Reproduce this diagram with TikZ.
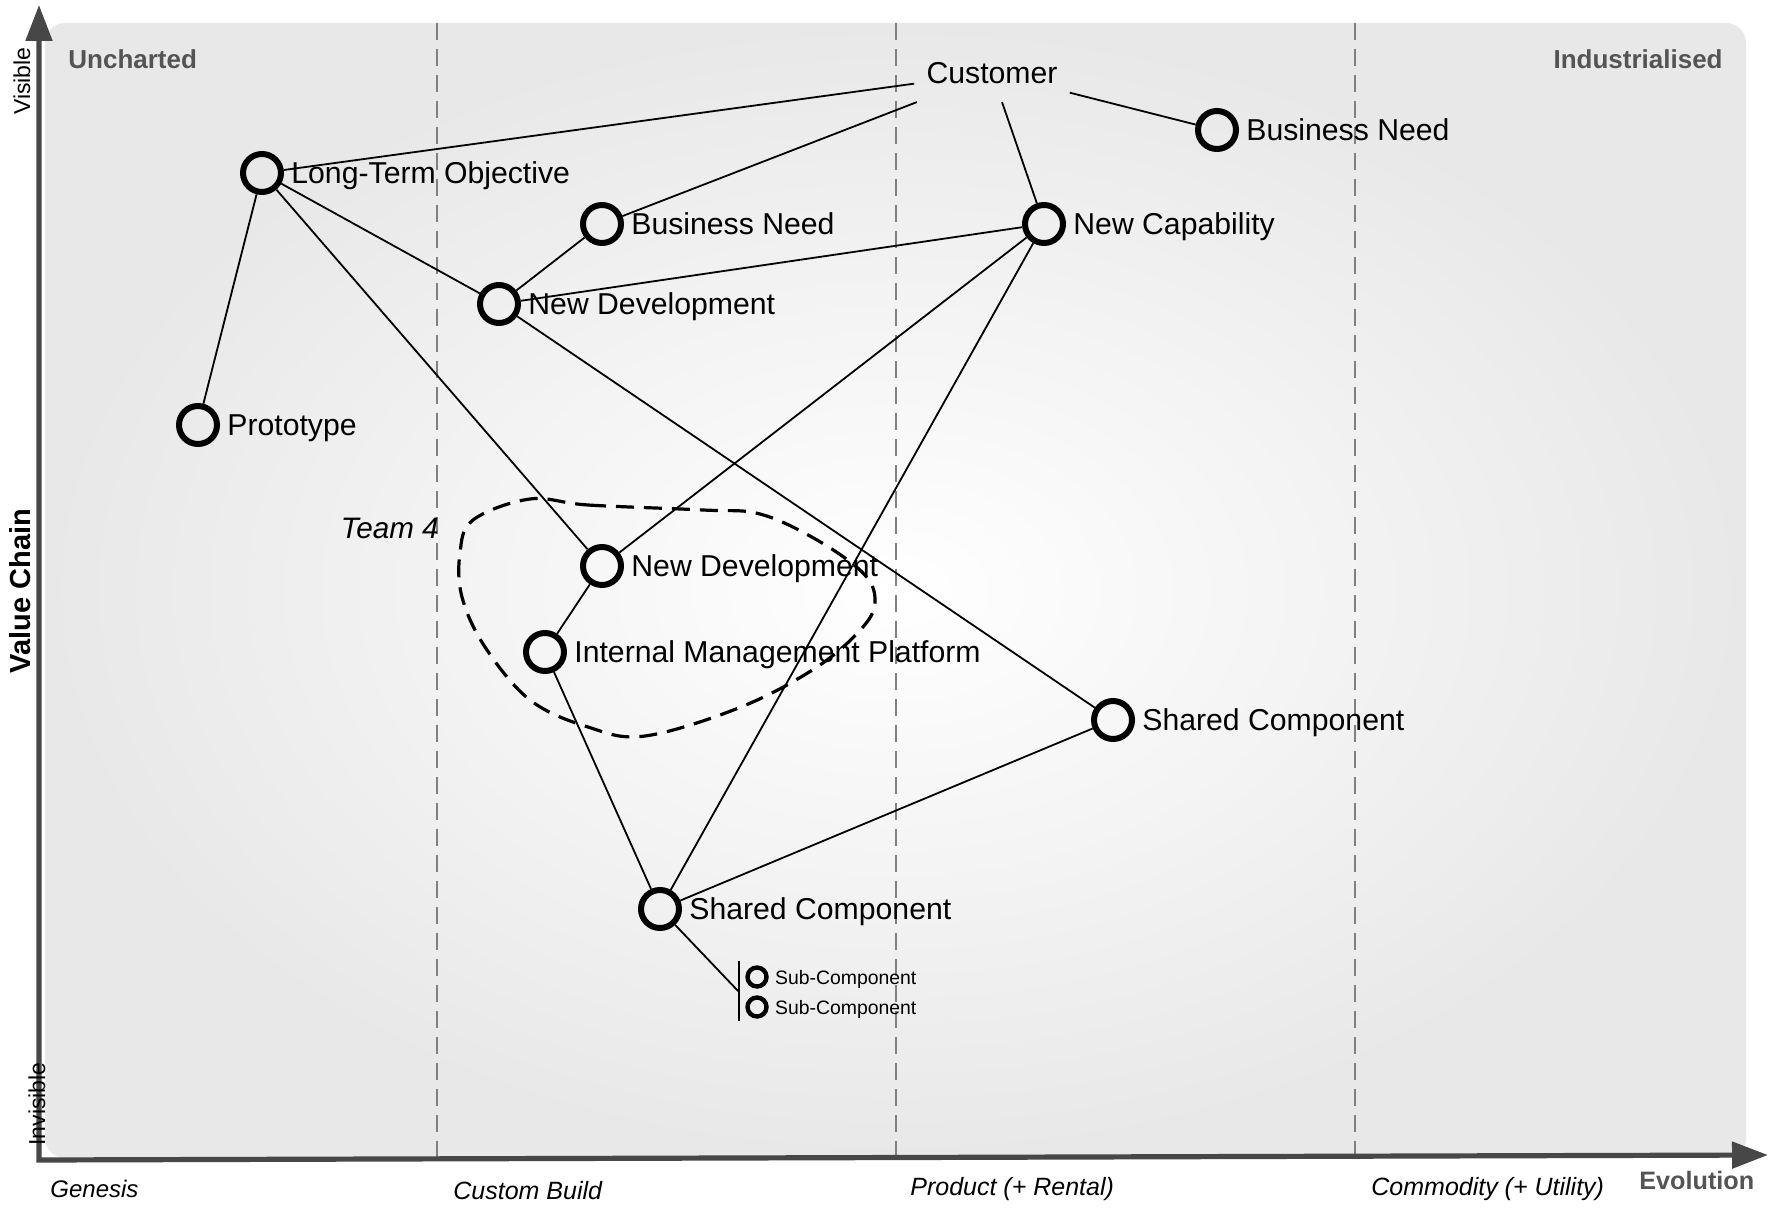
\documentclass[tikz,border=0pt]{standalone}
\usepackage{fontspec}
\setmainfont{Liberation Sans}
\usetikzlibrary{arrows.meta}

\begin{document}
\begin{tikzpicture}[x=0.5pt,y=-0.5pt,
  comp/.style={circle,draw,line width=3pt,minimum size=19pt,inner sep=0pt,
    label={[lbl]right:#1}},
  subcomp/.style={circle,draw,line width=2.2pt,minimum size=9.5pt,inner sep=0pt,
    label={[inner sep=0pt,anchor=base west,xshift=3pt,yshift=-3.5pt,
      font=\fontsize{9.7}{11}\selectfont]right:#1}},
  lbl/.style={inner sep=0pt,anchor=base west,xshift=3.5pt,yshift=-5.4pt,font=\fontsize{15.1}{18}\selectfont},
  link/.style={line width=0.9pt},
  stage/.style={anchor=west,inner sep=0pt,font=\fontsize{12.5}{15}\selectfont\itshape},
  corner/.style={inner sep=0pt,font=\fontsize{13}{15}\selectfont\bfseries,text=black!67}]
\newcommand{\axisclr}{black!72}
\newcommand{\gridclr}{black!50}
\useasboundingbox (0,0) rectangle (1772,1208);
% map background and stages
\shade[rounded corners=10pt,inner color=white,outer color=black!9] (45,23) rectangle (1746,1158);
\foreach \x in {437,896,1355}
  \draw[\gridclr,line width=0.9pt,dash pattern=on 8.5pt off 4.5pt] (\x,23) -- (\x,1158);
\draw[\axisclr,line width=2.6pt,{Triangle[length=18pt,width=13pt]}-{Triangle[length=18pt,width=13pt]}]
  (39,5) -- (39,1160) -- (1768,1155);
\node[corner,anchor=west] (unch) at (68,59) {Uncharted};
\node[corner,anchor=east] (ind) at (1723,59) {Industrialised};
\node[corner,anchor=west,font=\fontsize{12.6}{14}\selectfont\bfseries] (evo) at (1639,1180) {Evolution};
\node[rotate=90,font=\fontsize{11.5}{14}\selectfont] (vis) at (22,81) {Visible};
\node[rotate=90,font=\fontsize{11.5}{14}\selectfont] (invis) at (37,1104) {Invisible};
\node[rotate=90,font=\fontsize{14.5}{17}\selectfont\bfseries] (vchain) at (20,591) {Value Chain};
\node[stage,font=\fontsize{12}{15}\selectfont\itshape] (gen) at (50,1189) {Genesis};
\node[stage] (cust-build) at (453,1191) {Custom Build};
\node[stage] (prod) at (910,1189) {Product (+ Rental)};
\node[stage] (commod) at (1371,1189) {Commodity (+ Utility)};
% components
\node[font=\fontsize{15.1}{18}\selectfont,inner xsep=6pt,inner ysep=9pt] (cust) at (992,73) {Customer};
\node[comp=Business Need] (bnR) at (1217,130) {};
\node[comp=Long-Term Objective] (lto) at (262,173) {};
\node[comp=Business Need] (bnM) at (602,224) {};
\node[comp=New Capability] (cap) at (1044,224) {};
\node[comp=New Development] (ndT) at (499,304) {};
\node[comp=Prototype] (proto) at (198,425) {};
\node[comp=New Development] (ndL) at (602,566) {};
\node[comp=Internal Management Platform] (imp) at (545,652) {};
\node[comp=Shared Component] (scR) at (1113,720) {};
\node[comp=Shared Component] (scL) at (660,909) {};
\node[subcomp=Sub-Component] (sub1) at (757,977) {};
\node[subcomp=Sub-Component] (sub2) at (757,1007) {};
\coordinate (bartop) at (739,961);
\coordinate (barbot) at (739,1021);
\coordinate (barmid) at (739,992);
\draw[line width=1pt] (bartop) -- (barbot);
% links
\draw[link] (cust) -- (lto);
\draw[link] (cust) -- (bnM);
\draw[link] (cust) -- (cap);
\draw[link] (cust) -- (bnR);
\draw[link] (lto) -- (proto);
\draw[link] (lto) -- (ndT);
\draw[link] (lto) -- (ndL);
\draw[link] (bnM) -- (ndT);
\draw[link] (cap) -- (ndT);
\draw[link] (ndT) -- (scR);
\draw[link] (cap) -- (ndL);
\draw[link] (cap) -- (scL);
\draw[link] (ndL) -- (imp);
\draw[link] (imp) -- (scL);
\draw[link] (scL) -- (scR);
\draw[link] (scL) -- (barmid);
% team 4
\draw[line width=1.6pt,dash pattern=on 9pt off 5pt] plot[smooth cycle,tension=0.6] coordinates
  {(530,499) (588,505) (703,510) (760,514) (817,540) (863,573) (875,600) (863,627) (817,667)
   (741,707) (645,736) (588,727) (530,700) (485,647) (462,597) (460,553) (473,520)};
\node[anchor=east,inner sep=0pt,font=\fontsize{14.8}{17}\selectfont\itshape] (team) at (439,528) {Team 4};
\end{tikzpicture}
\end{document}
